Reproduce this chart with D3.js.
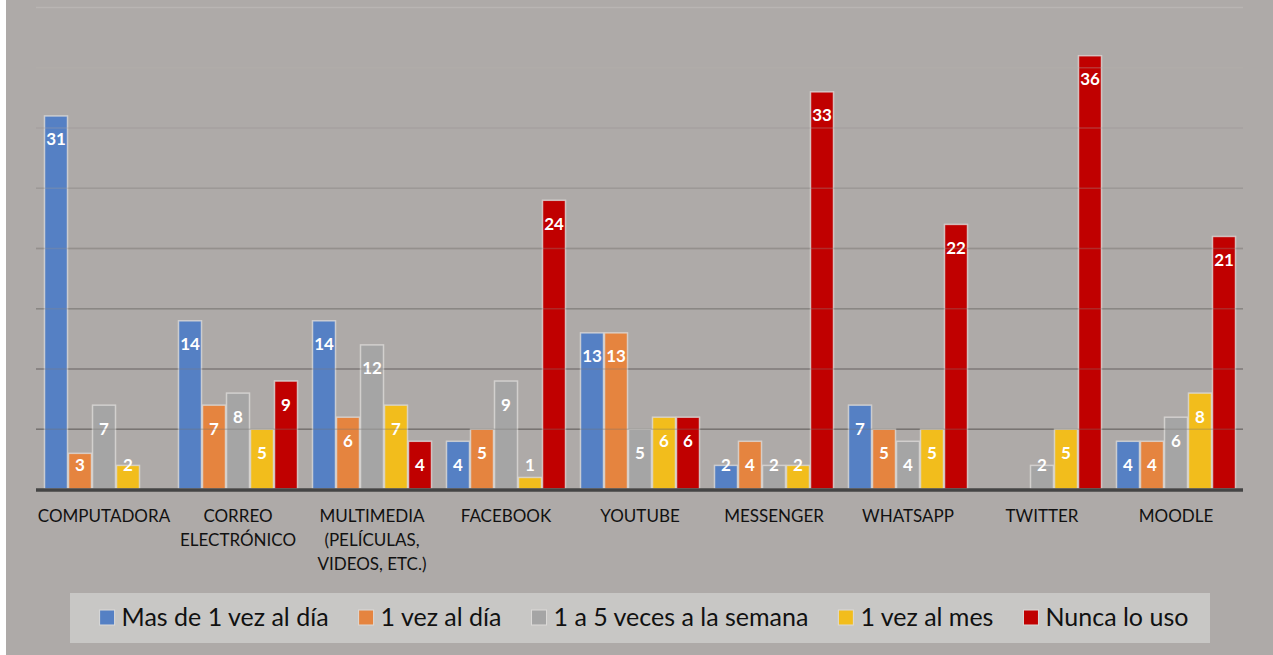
<!DOCTYPE html>
<html>
<head>
<meta charset="utf-8">
<script src="https://cdn.jsdelivr.net/npm/d3@7"></script>
<style>
  html, body { margin: 0; padding: 0; background: #fff; }
  svg { display: block; font-family: Lato, "Open Sans", sans-serif; }
</style>
</head>
<body>
<div id="chart"></div>
<script>
const categories = [
  ['COMPUTADORA'],
  ['CORREO', 'ELECTRÓNICO'],
  ['MULTIMEDIA', '(PELÍCULAS,', 'VIDEOS, ETC.)'],
  ['FACEBOOK'],
  ['YOUTUBE'],
  ['MESSENGER'],
  ['WHATSAPP'],
  ['TWITTER'],
  ['MOODLE'],
];
const seriesNames = ['Mas de 1 vez al día', '1 vez al día', '1 a 5 veces a la semana', '1 vez al mes', 'Nunca lo uso'];
const seriesColors = ['#5580c4', '#e5843f', '#a5a5a5', '#f2bd1c', '#c00000'];
const masDeUnaVez = [31, 14, 14, 4, 13, 2, 7, 0, 4];
const unaVezDia = [3, 7, 6, 5, 13, 4, 5, 0, 4];
const semana = [7, 8, 12, 9, 5, 2, 4, 2, 6];
const unaVezMes = [2, 5, 7, 1, 6, 2, 5, 5, 8];
const nunca = [0, 9, 4, 24, 6, 33, 22, 36, 21];
const yTicks = [0, 5, 10, 15, 20, 25, 30, 35, 40];

const series = [masDeUnaVez, unaVezDia, semana, unaVezMes, nunca];
const W = 1273, H = 655;

const svg = d3.select('#chart').append('svg')
  .attr('width', W)
  .attr('height', H);

// chart background (thin white strip left)
svg.append('rect')
  .attr('x', 6).attr('y', 0)
  .attr('width', W - 6).attr('height', H)
  .attr('fill', '#aeaaa8');

const y = d3.scaleLinear().domain([0, 40]).range([489, 7]);
const x0 = d3.scaleBand()
  .domain(d3.range(categories.length))
  .range([37, 1243])
  .paddingInner(14 / 134)
  .paddingOuter(7 / 134);
const x1 = d3.scaleBand()
  .domain(d3.range(seriesNames.length))
  .range([0, x0.bandwidth()]);

const gridColor = d3.interpolateRgb('#bab6b4', '#6a6664');
function grid(opacity) {
  svg.append('g').selectAll('line')
    .data(yTicks.filter(t => t > 0))
    .join('line')
    .attr('x1', 36).attr('x2', 1243)
    .attr('y1', d => y(d) + 0.5).attr('y2', d => y(d) + 0.5)
    .attr('stroke', d => gridColor(1 - d / 40))
    .attr('stroke-opacity', opacity)
    .attr('stroke-width', 1.3);
}

grid(0.9);

const groups = svg.append('g').selectAll('g.grp')
  .data(categories)
  .join('g')
  .attr('class', 'grp')
  .attr('transform', (d, i) => `translate(${x0(i)},0)`);

const cellData = (d, i) => series.map((s, k) => ({ k, v: s[i] })).filter(c => c.v > 0);

groups.selectAll('rect')
  .data(cellData)
  .join('rect')
  .attr('x', d => x1(d.k) + 0.5)
  .attr('y', d => y(d.v) + 0.5)
  .attr('width', x1.bandwidth() - 1)
  .attr('height', d => y(0) - y(d.v) - 0.5)
  .attr('fill', d => seriesColors[d.k])
  .attr('stroke', '#dcdad8')
  .attr('stroke-opacity', 0.8)
  .attr('stroke-width', 1.5);

// faint gridlines showing through the bars
grid(0.3);

// axis baseline
svg.append('line')
  .attr('x1', 36).attr('x2', 1243)
  .attr('y1', y(0) + 1).attr('y2', y(0) + 1)
  .attr('stroke', '#444444')
  .attr('stroke-width', 3.5);

// value labels
groups.selectAll('text')
  .data(cellData)
  .join('text')
  .attr('x', d => x1(d.k) + x1.bandwidth() / 2)
  .attr('y', d => Math.min(y(d.v) + 24, 465) + 6)
  .attr('text-anchor', 'middle')
  .attr('fill', '#ffffff')
  .attr('font-weight', 'bold')
  .attr('font-size', 17)
  .text(d => d.v);
groups.raise();

// category labels
const catLabels = svg.append('g').selectAll('text')
  .data(categories)
  .join('text')
  .attr('x', (d, i) => x0(i) + x0.bandwidth() / 2)
  .attr('y', 522)
  .attr('text-anchor', 'middle')
  .attr('font-size', 17)
  .attr('fill', '#111111');
catLabels.selectAll('tspan')
  .data(d => d)
  .join('tspan')
  .attr('x', function () { return this.parentNode.getAttribute('x'); })
  .attr('dy', (d, i) => i === 0 ? 0 : 24)
  .text(d => d);

// legend
svg.append('rect')
  .attr('x', 70).attr('y', 593)
  .attr('width', 1140).attr('height', 50)
  .attr('fill', '#c8c7c5');

const legend = svg.append('g');
const items = legend.selectAll('g')
  .data(seriesNames)
  .join('g');
items.append('rect')
  .attr('width', 15).attr('height', 15)
  .attr('y', 610)
  .attr('fill', (d, i) => seriesColors[i])
  .attr('stroke', '#dcdad8')
  .attr('stroke-width', 1);
items.append('text')
  .attr('x', 22)
  .attr('y', 626)
  .attr('font-size', 25)
  .attr('fill', '#111111')
  .text(d => d);

const gap = 30;
const widths = [];
items.each(function () {
  widths.push(22 + this.querySelector('text').getComputedTextLength());
});
const total = d3.sum(widths) + gap * (widths.length - 1);
let cx = 644 - total / 2;
items.each(function (d, i) {
  d3.select(this).attr('transform', `translate(${cx},0)`);
  cx += widths[i] + gap;
});
</script>
</body>
</html>
